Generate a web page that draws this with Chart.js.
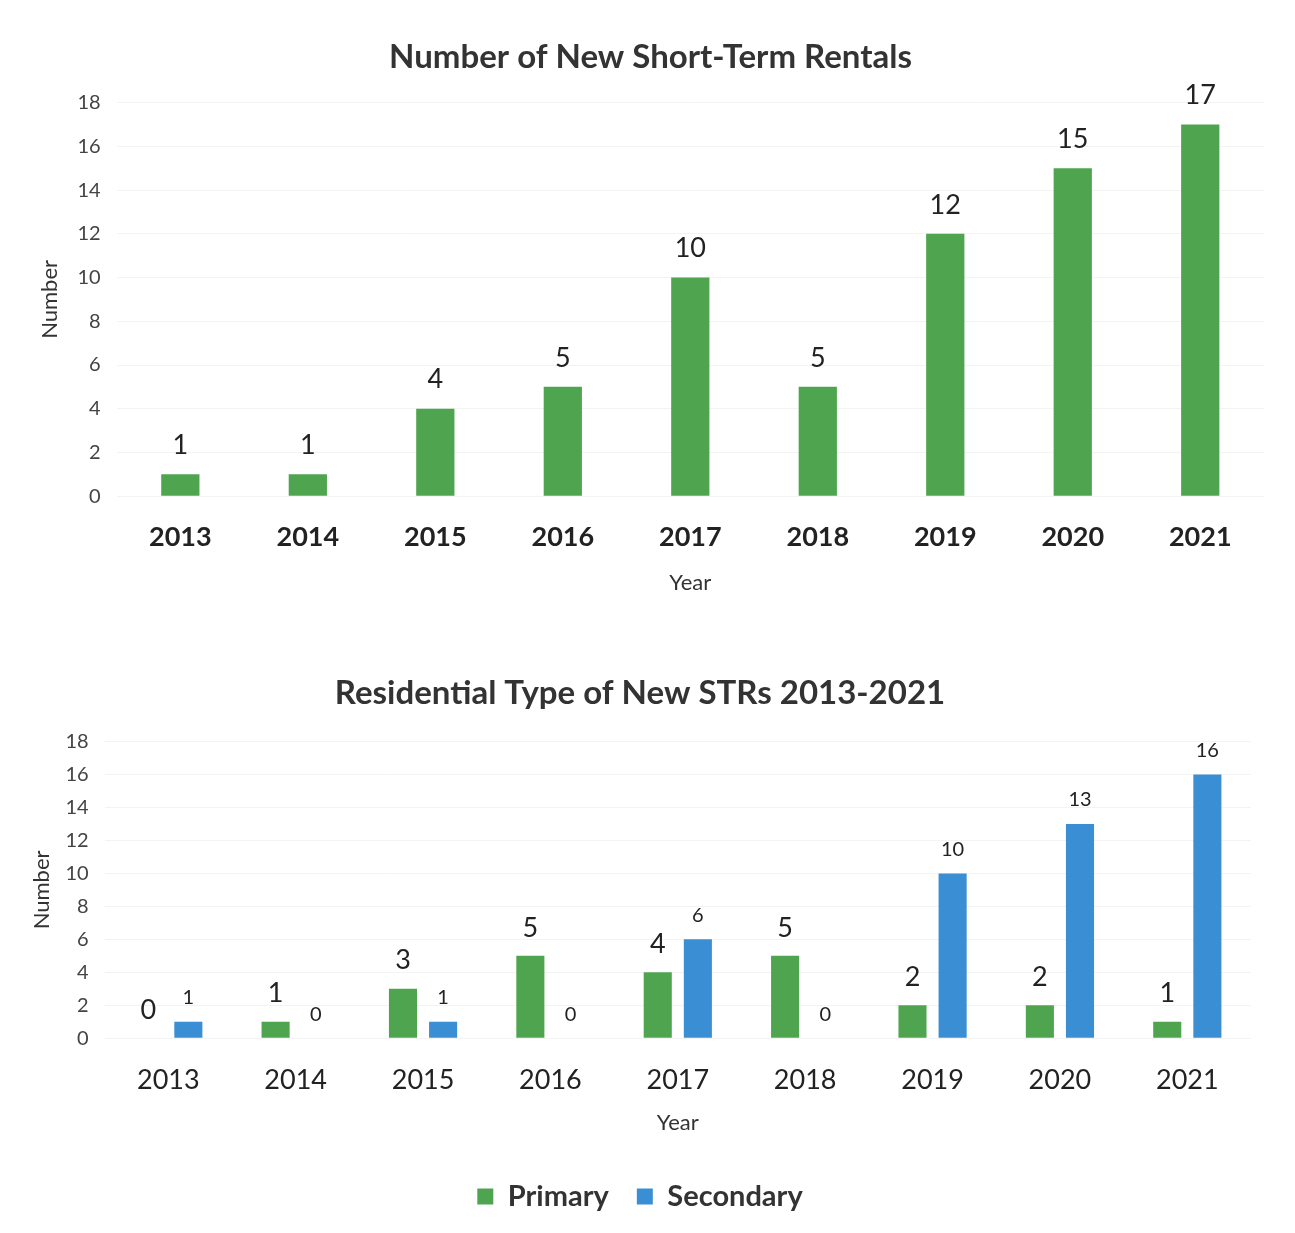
<!DOCTYPE html>
<html>
<head>
<meta charset="utf-8">
<script src="https://cdn.jsdelivr.net/npm/chart.js@4.4.1/dist/chart.umd.min.js"></script>
<style>
  html, body { margin: 0; padding: 0; background: #fff; }
  .wrap { position: absolute; left: 0; width: 1295px; }
  #top { top: 0; height: 630px; }
  #bottom { top: 640px; height: 593px; }
</style>
</head>
<body>
<div class="wrap" id="top"><canvas id="totalChart"></canvas></div>
<div class="wrap" id="bottom"><canvas id="typeChart"></canvas></div>
<script>
// data
const years = ['2013', '2014', '2015', '2016', '2017', '2018', '2019', '2020', '2021'];
const totalNew = [1, 1, 4, 5, 10, 5, 12, 15, 17];
const primary = [0, 1, 3, 5, 4, 5, 2, 2, 1];
const secondary = [1, 0, 1, 0, 6, 0, 10, 13, 16];
const yTicks = [0, 2, 4, 6, 8, 10, 12, 14, 16, 18];

const GREEN = '#4fa54f';
const BLUE = '#3a8fd4';
const FONT = 'Lato, "Open Sans", sans-serif';

// simple value labels above each bar
const valueLabels = {
    id: 'valueLabels',
    afterDatasetsDraw(chart) {
        const ctx = chart.ctx;
        chart.data.datasets.forEach((ds, i) => {
            const meta = chart.getDatasetMeta(i);
            ctx.save();
            ctx.fillStyle = '#222';
            ctx.font = `${ds.labelSize || 24}px ${FONT}`;
            ctx.textAlign = 'center';
            ctx.textBaseline = 'middle';
            meta.data.forEach((bar, j) => {
                ctx.fillText(ds.data[j], bar.x, bar.y - (ds.labelOffset || 28));
            });
            ctx.restore();
        });
    }
};

const yScale = (tickPad, titlePad) => ({
    min: 0,
    max: 18,
    afterBuildTicks: (axis) => { axis.ticks = yTicks.map(v => ({ value: v })); },
    grid: { color: '#f3f3f3', drawTicks: false },
    border: { display: false },
    ticks: { color: '#444', font: { family: FONT, size: 20 }, padding: tickPad },
    title: { display: true, text: 'Number', color: '#333', font: { family: FONT, size: 22 }, padding: { top: 0, bottom: titlePad } }
});

const xScale = (bold, tickPad, padTop, padBottom) => ({
    grid: { display: false, drawTicks: false },
    border: { display: false },
    ticks: { color: '#222', font: { family: FONT, size: 27, weight: bold ? 'bold' : 'normal' }, padding: tickPad },
    title: { display: true, text: 'Year', color: '#333', font: { family: FONT, size: 22 }, padding: { top: padTop, bottom: padBottom } }
});

new Chart(document.getElementById('totalChart'), {
    type: 'bar',
    data: {
        labels: years,
        datasets: [{
            label: 'New STRs',
            data: totalNew,
            backgroundColor: GREEN,
            barPercentage: 0.6,
            categoryPercentage: 0.5,
            labelSize: 27,
            labelOffset: 29
        }]
    },
    options: {
        responsive: true,
        maintainAspectRatio: false,
        animation: false,
        layout: { padding: { top: 38, left: 37, right: 31, bottom: 34 } },
        plugins: {
            legend: { display: false },
            tooltip: { enabled: false },
            title: {
                display: true,
                text: 'Number of New Short-Term Rentals',
                color: '#333',
                font: { family: FONT, size: 33, weight: 'bold' },
                padding: { top: 0, bottom: 25 }
            }
        },
        scales: {
            x: xScale(true, 25, -9, 0),
            y: yScale(16, -2)
        }
    },
    plugins: [valueLabels]
});

new Chart(document.getElementById('typeChart'), {
    type: 'bar',
    data: {
        labels: years,
        datasets: [{
            label: 'Primary',
            data: primary,
            backgroundColor: GREEN,
            barPercentage: 0.7,
            categoryPercentage: 0.63,
            labelSize: 27,
            labelOffset: 28
        }, {
            label: 'Secondary',
            data: secondary,
            backgroundColor: BLUE,
            barPercentage: 0.7,
            categoryPercentage: 0.63,
            labelSize: 20,
            labelOffset: 24
        }]
    },
    options: {
        responsive: true,
        maintainAspectRatio: false,
        animation: false,
        layout: { padding: { top: 34, left: 29, right: 44, bottom: 12 } },
        plugins: {
            tooltip: { enabled: false },
            title: {
                display: true,
                text: 'Residential Type of New STRs 2013-2021',
                color: '#333',
                font: { family: FONT, size: 33, weight: 'bold' },
                padding: { top: 0, bottom: 28 }
            },
            legend: {
                position: 'bottom',
                labels: {
                    color: '#333',
                    font: { family: FONT, size: 29, weight: 'bold' },
                    boxWidth: 16,
                    boxHeight: 16,
                    padding: 28
                }
            }
        },
        scales: {
            x: xScale(false, 26, -13, 18),
            y: yScale(16, -6)
        }
    },
    plugins: [valueLabels]
});
</script>
</body>
</html>
